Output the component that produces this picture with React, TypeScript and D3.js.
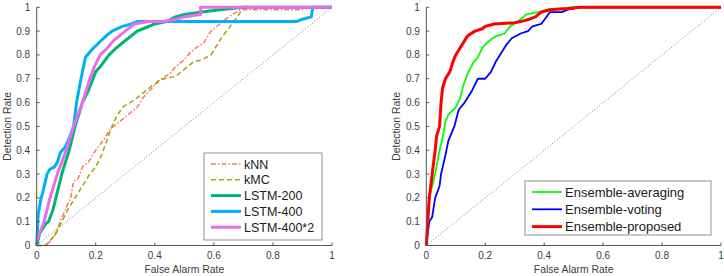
import React from 'react';
import * as d3 from 'd3';

type Pt = [number, number];

// left panel: single models
const knn: Pt[] = [[0,0],[0.02,0],[0.04,0.01],[0.06,0.04],[0.08,0.1],[0.1,0.16],[0.115,0.2],[0.125,0.27],[0.14,0.28],[0.155,0.33],[0.175,0.35],[0.2,0.4],[0.23,0.45],[0.25,0.49],[0.28,0.52],[0.31,0.55],[0.34,0.58],[0.36,0.62],[0.39,0.66],[0.41,0.69],[0.45,0.72],[0.47,0.75],[0.5,0.78],[0.52,0.81],[0.55,0.84],[0.565,0.85],[0.59,0.9],[0.62,0.93],[0.65,0.96],[0.69,0.99],[0.9,0.99],[0.93,1],[1,1]];
const kmc: Pt[] = [[0,0],[0.03,0],[0.045,0.02],[0.065,0.05],[0.085,0.1],[0.105,0.15],[0.13,0.2],[0.155,0.25],[0.18,0.3],[0.2,0.33],[0.22,0.38],[0.24,0.45],[0.255,0.5],[0.27,0.54],[0.29,0.58],[0.33,0.61],[0.36,0.64],[0.39,0.67],[0.43,0.7],[0.47,0.71],[0.5,0.74],[0.53,0.77],[0.56,0.78],[0.59,0.8],[0.61,0.84],[0.63,0.88],[0.655,0.92],[0.68,0.96],[0.7,1],[1,1]];
const lstm200: Pt[] = [[0,0],[0.01,0.05],[0.03,0.09],[0.04,0.1],[0.055,0.15],[0.065,0.2],[0.085,0.3],[0.11,0.4],[0.13,0.5],[0.155,0.6],[0.175,0.65],[0.2,0.73],[0.215,0.75],[0.245,0.8],[0.27,0.83],[0.29,0.85],[0.32,0.88],[0.34,0.9],[0.36,0.91],[0.4,0.93],[0.44,0.94],[0.47,0.96],[0.5,0.97],[0.56,0.98],[0.62,0.99],[0.7,1],[1,1]];
const lstm400: Pt[] = [[0,0],[0.005,0.13],[0.015,0.2],[0.02,0.22],[0.035,0.3],[0.045,0.32],[0.06,0.33],[0.07,0.35],[0.08,0.39],[0.095,0.41],[0.11,0.45],[0.125,0.5],[0.135,0.6],[0.15,0.7],[0.165,0.79],[0.185,0.82],[0.21,0.85],[0.235,0.88],[0.255,0.9],[0.29,0.92],[0.32,0.93],[0.34,0.94],[0.8,0.94],[0.88,0.94],[0.9,0.95],[0.93,0.96],[0.935,1],[1,1]];
const lstm400x2: Pt[] = [[0,0.02],[0.01,0.05],[0.025,0.1],[0.045,0.2],[0.07,0.3],[0.1,0.4],[0.125,0.5],[0.155,0.6],[0.18,0.7],[0.195,0.75],[0.215,0.8],[0.24,0.83],[0.26,0.86],[0.28,0.88],[0.3,0.9],[0.33,0.93],[0.38,0.94],[0.43,0.94],[0.47,0.95],[0.5,0.96],[0.555,0.97],[0.555,1],[1,1]];

// right panel: ensembles
const ensAvg: Pt[] = [[0,0],[0.01,0.2],[0.02,0.25],[0.03,0.3],[0.045,0.4],[0.055,0.45],[0.065,0.52],[0.075,0.55],[0.1,0.58],[0.115,0.62],[0.125,0.67],[0.14,0.72],[0.16,0.77],[0.175,0.79],[0.19,0.83],[0.205,0.85],[0.225,0.87],[0.24,0.88],[0.265,0.89],[0.285,0.92],[0.31,0.94],[0.34,0.97],[0.38,0.98],[0.41,0.99],[0.5,1],[1,1]];
const ensVote: Pt[] = [[0,0],[0.01,0.1],[0.02,0.12],[0.03,0.2],[0.045,0.25],[0.05,0.3],[0.065,0.38],[0.075,0.44],[0.095,0.5],[0.11,0.57],[0.13,0.6],[0.155,0.65],[0.175,0.7],[0.2,0.7],[0.22,0.73],[0.235,0.77],[0.25,0.8],[0.27,0.84],[0.29,0.87],[0.32,0.89],[0.345,0.9],[0.36,0.92],[0.39,0.93],[0.42,0.98],[0.46,0.98],[0.48,0.99],[0.52,1],[1,1]];
const ensProp: Pt[] = [[0,0],[0.005,0.1],[0.01,0.2],[0.02,0.3],[0.03,0.4],[0.035,0.46],[0.045,0.5],[0.05,0.6],[0.055,0.66],[0.065,0.7],[0.08,0.73],[0.09,0.77],[0.1,0.8],[0.115,0.83],[0.13,0.86],[0.14,0.88],[0.165,0.9],[0.19,0.91],[0.2,0.92],[0.23,0.93],[0.3,0.935],[0.32,0.94],[0.35,0.95],[0.37,0.96],[0.39,0.98],[0.42,0.99],[0.48,0.995],[0.52,1],[1,1]];

const yTicks = [0, 0.1, 0.2, 0.3, 0.4, 0.5, 0.6, 0.7, 0.8, 0.9, 1];
const xTicks = [0, 0.2, 0.4, 0.6, 0.8, 1];

type Series = { name: string; data: Pt[]; color: string; width: number; dash?: string };

const leftSeries: Series[] = [
  { name: 'kNN', data: knn, color: '#f8766d', width: 1.5, dash: '5,2,1.5,2' },
  { name: 'kMC', data: kmc, color: '#a3a500', width: 1.5, dash: '5,3' },
  { name: 'LSTM-200', data: lstm200, color: '#00b472', width: 3 },
  { name: 'LSTM-400', data: lstm400, color: '#00b0f6', width: 3 },
  { name: 'LSTM-400*2', data: lstm400x2, color: '#e76bf3', width: 3 },
];

const rightSeries: Series[] = [
  { name: 'Ensemble-averaging', data: ensAvg, color: '#00ff00', width: 1.8 },
  { name: 'Ensemble-voting', data: ensVote, color: '#0000ff', width: 1.8 },
  { name: 'Ensemble-proposed', data: ensProp, color: '#ff0000', width: 3 },
];

const font = '"Liberation Sans", Arial, sans-serif';
const textColor = '#404040';

function Panel({ x0, x1, series, legend }: {
  x0: number; x1: number; series: Series[];
  legend: { x: number; y: number; w: number; h: number; size: number; step: number };
}) {
  const yTop = 7.3, yBot = 245.5;
  const x = d3.scaleLinear().domain([0, 1]).range([x0, x1]);
  const y = d3.scaleLinear().domain([0, 1]).range([yBot, yTop]);
  const line = d3.line<Pt>().x(d => x(d[0])).y(d => y(d[1]));
  return (
    <g fontFamily={font} fill={textColor}>
      <line x1={x(0)} y1={y(0)} x2={x(1)} y2={y(1)} stroke="#555" strokeWidth={0.8} strokeDasharray="1,2" />
      {series.map(s => (
        <path key={s.name} d={line(s.data) ?? ''} fill="none" stroke={s.color}
          strokeWidth={s.width} strokeDasharray={s.dash} strokeLinejoin="round" />
      ))}
      <line x1={x0} y1={yTop} x2={x0} y2={yBot} stroke="#555" strokeWidth={1} />
      <line x1={x0} y1={yBot} x2={x1} y2={yBot} stroke="#555" strokeWidth={1} />
      {yTicks.map(t => (
        <g key={'y' + t}>
          <line x1={x0} x2={x0 + 3} y1={y(t)} y2={y(t)} stroke="#555" />
          <text x={x0 - 6.5} y={y(t)} dy="0.35em" textAnchor="end" fontSize={10}>{t}</text>
        </g>
      ))}
      {xTicks.map(t => (
        <g key={'x' + t}>
          <line x1={x(t)} x2={x(t)} y1={yBot} y2={yBot - 3} stroke="#555" />
          <text x={x(t)} y={259} textAnchor="middle" fontSize={10}>{t}</text>
        </g>
      ))}
      <text x={(x0 + x1) / 2} y={273} textAnchor="middle" fontSize={10.4}>False Alarm Rate</text>
      <text transform={`translate(${x0 - 26},${(yTop + yBot) / 2}) rotate(-90)`} textAnchor="middle" fontSize={10.4}>Detection Rate</text>
      <rect x={legend.x} y={legend.y} width={legend.w} height={legend.h} fill="#fff" stroke="#777" strokeWidth={0.8} />
      {series.map((s, i) => {
        const ly = legend.y + 11 + i * legend.step;
        return (
          <g key={'l' + s.name}>
            <line x1={legend.x + 7} x2={legend.x + 37} y1={ly} y2={ly} stroke={s.color}
              strokeWidth={s.width} strokeDasharray={s.dash} />
            <text x={legend.x + 40} y={ly} dy="0.36em" fontSize={legend.size} fill="#1a1a1a">{s.name}</text>
          </g>
        );
      })}
    </g>
  );
}

export default function App() {
  return (
    <svg width={724} height={276} style={{ position: 'absolute', left: 0, top: 0, background: '#fff' }}>
      <Panel x0={36.7} x1={332} series={leftSeries}
        legend={{ x: 204, y: 153, w: 118, h: 87, size: 12.5, step: 15.8 }} />
      <Panel x0={426.3} x1={721} series={rightSeries}
        legend={{ x: 525, y: 181, w: 186, h: 54, size: 13, step: 17.3 }} />
    </svg>
  );
}
